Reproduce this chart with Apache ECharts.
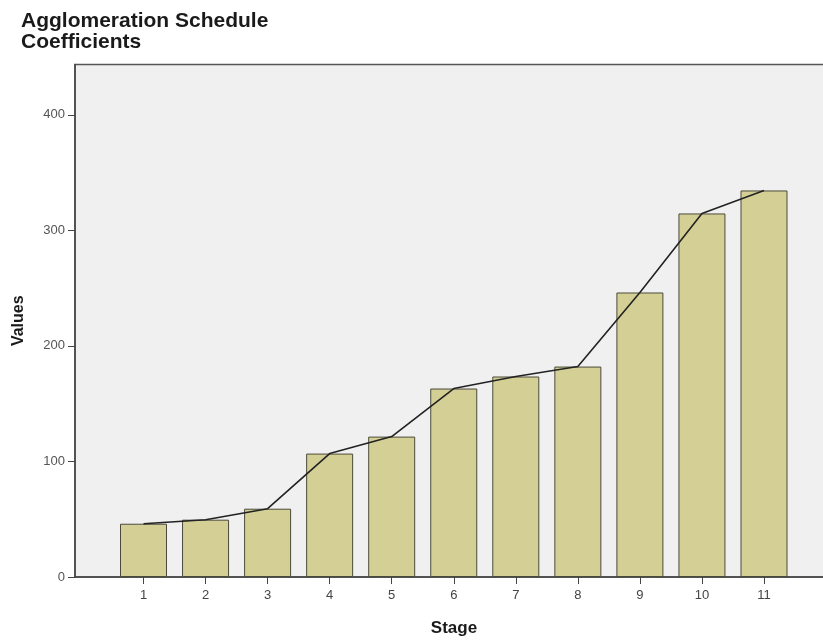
<!DOCTYPE html>
<html><head><meta charset="utf-8">
<script src="https://cdn.jsdelivr.net/npm/echarts@6/dist/echarts.min.js"></script>
<style>html,body{margin:0;padding:0;background:#fff}#c{width:823px;height:640px}</style>
</head><body><div id="c"></div>
<script>
const stages = [1,2,3,4,5,6,7,8,9,10,11];
const coefficients = [46.1,49.6,59.1,106.8,121.5,163.1,173.5,182.1,246.2,314.6,334.5];
const lineValues = [46.1,49.6,59.1,106.8,121.5,163.1,173.5,182.1,246.2,314.6,334.5];
const yTicks = [0,100,200,300,400];

const barData = stages.map((s,i)=>[s,coefficients[i]]);
const lineData = stages.map((s,i)=>[s,lineValues[i]]);
const chart = echarts.init(document.getElementById('c'));
chart.setOption({
  animation:false,
  backgroundColor:'#ffffff',
  title:{text:'Agglomeration Schedule\nCoefficients',left:21,top:11,padding:0,
    textStyle:{fontFamily:'Liberation Sans, Arial',fontWeight:'bold',fontSize:21,lineHeight:21,color:'#1a1a1a'}},
  grid:{left:75,right:-10,top:64.5,bottom:63,outerBoundsMode:'none',containLabel:false,show:true,backgroundColor:'#f0f0f0',borderColor:'#555',borderWidth:1.5},
  xAxis:{type:'value',min:-0.104,max:12.112,name:'Stage',nameLocation:'middle',nameGap:43,
    nameTextStyle:{fontFamily:'Liberation Sans, Arial',fontWeight:'bold',fontSize:17,color:'#1a1a1a'},
    splitLine:{show:false},
    axisLine:{show:true,onZero:false,lineStyle:{color:'#444',width:1.5}},
    axisTick:{show:true,customValues:stages,length:7,lineStyle:{color:'#444'}},
    axisLabel:{customValues:stages,fontFamily:'Liberation Sans, Arial',fontSize:13,color:'#444',margin:12,formatter:v=>String(v)}},
  yAxis:{type:'value',min:0,max:443.5,interval:100,name:'Values',nameLocation:'middle',nameGap:48,
    nameTextStyle:{fontFamily:'Liberation Sans, Arial',fontWeight:'bold',fontSize:16,color:'#1a1a1a'},
    splitLine:{show:false},
    axisLine:{show:true,onZero:false,lineStyle:{color:'#444',width:1.5}},
    axisTick:{show:true,customValues:yTicks,length:7,lineStyle:{color:'#444'}},
    axisLabel:{customValues:yTicks,fontFamily:'Liberation Sans, Arial',fontSize:13,color:'#555',margin:10}},
  series:[
    {type:'bar',data:barData,barWidth:47,itemStyle:{color:'#d4d095',borderColor:'#4a4a3a',borderWidth:1}},
    {type:'line',data:lineData,symbol:'none',lineStyle:{color:'#222',width:1.6},z:5}
  ]
});
</script></body></html>
